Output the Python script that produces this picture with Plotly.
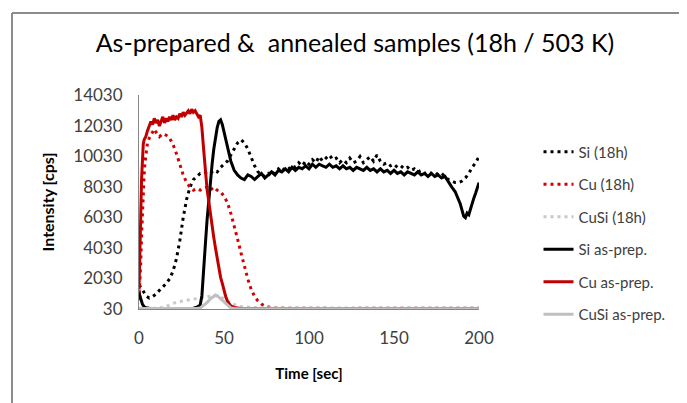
import plotly.graph_objects as go

# ---- data (time in sec, intensity in cps) ----
t_si_18h = [0, 2, 4, 6, 8, 10, 12, 14, 16, 18, 20, 22, 24, 26, 28, 30, 32, 34, 36, 38,
            40, 42, 44, 46, 48, 50, 52, 54, 56, 58, 60, 62, 64, 66, 68, 70, 72, 74, 76, 78,
            80, 82, 84, 86, 88, 90, 92, 94, 96, 98, 100, 102, 104, 106, 108, 110, 112, 114, 116, 118,
            120, 122, 124, 126, 128, 130, 132, 134, 136, 138, 140, 142, 144, 146, 148, 150, 152, 154, 156, 158,
            160, 162, 164, 166, 168, 170, 172, 174, 176, 178, 180, 182, 184, 186, 188, 190, 192, 194, 196, 198, 200]
si_18h = [1600, 1300, 900, 750, 850, 1000, 1250, 1450, 1700, 2000, 2500, 3300, 4500, 6000, 7200, 8000, 8500, 8700, 8900, 8900,
          9000, 8900, 9100, 9000, 9300, 9500, 9700, 10100, 10500, 10900, 11100, 10900, 10500, 9900, 9400, 9000, 8800, 8700, 8900, 8700,
          9000, 9200, 9000, 9300, 9200, 9400, 9300, 9600, 9400, 9700, 9500, 9800, 9600, 10000, 9700, 9900, 10100, 9800, 9900, 9600,
          9800, 9600, 9900, 9600, 9700, 10000, 9600, 9800, 10000, 9700, 10100, 9700, 9500, 9600, 9400, 9500, 9300, 9400, 9200, 9300,
          9100, 9200, 9000, 9100, 8900, 9000, 8900, 9000, 8800, 8900, 8700, 8500, 8400, 8300, 8300, 8400, 8600, 8900, 9300, 9600, 10000]

t_cu_18h = [0, 0.5, 1, 1.5, 2, 2.5, 3, 3.5, 4, 5, 6, 7, 8, 9, 10, 12, 14, 16, 18, 20,
            22, 24, 26, 28, 30, 32, 34, 36, 38, 40, 42, 44, 46, 48, 50, 52, 54, 56, 58, 60,
            62, 64, 66, 68, 70, 72, 74, 76, 78, 80, 90, 100, 110, 120, 130, 140, 150, 160, 170, 180, 190, 200]
cu_18h = [600, 1500, 3000, 4800, 6500, 7800, 8800, 9600, 10200, 10900, 11200, 11400, 11500, 11800, 11600, 11300, 11500, 11400, 11200, 10800,
          10200, 9500, 8800, 8300, 8000, 7800, 7900, 7800, 7900, 8000, 7800, 8000, 7800, 7700, 7400, 7000, 6300, 5500, 4600, 3700,
          2800, 2000, 1300, 850, 550, 350, 230, 150, 110, 90, 75, 70, 80, 65, 75, 70, 80, 70, 75, 70, 80, 75]

t_cusi_18h = [0, 5, 10, 15, 18, 20, 22, 24, 26, 28, 30, 32, 34, 36, 38, 40, 42, 44, 46, 48,
              50, 52, 54, 56, 58, 60, 62, 64, 66, 70, 80, 100, 120, 140, 160, 180, 200]
cusi_18h = [80, 60, 80, 150, 300, 400, 480, 520, 560, 600, 620, 650, 700, 760, 800, 830, 870, 900, 880, 820,
            700, 550, 420, 320, 250, 200, 170, 150, 130, 110, 100, 90, 95, 90, 90, 95, 90]

t_si_prep = [0, 1, 2, 3, 4, 6, 8, 12, 16, 20, 24, 28, 32, 34, 36, 37, 38, 39, 40, 41,
             42, 43, 44, 45, 46, 47, 48, 49, 50, 51, 52, 53, 54, 55, 56, 58, 60, 62, 64, 66,
             68, 70, 72, 74, 76, 78, 80, 82, 84, 86, 88, 90, 92, 94, 96, 98, 100, 102, 104, 106,
             108, 110, 112, 114, 116, 118, 120, 122, 124, 126, 128, 130, 132, 134, 136, 138, 140, 142, 144, 146,
             148, 150, 152, 154, 156, 158, 160, 162, 164, 166, 168, 170, 172, 174, 176, 178, 180, 182, 184, 186,
             188, 189, 190, 191, 192, 193, 194, 195, 196, 197, 198, 199, 200]
si_prep = [1100, 700, 350, 180, 120, 80, 60, 50, 45, 45, 45, 50, 80, 150, 300, 900, 2300, 4200, 5800, 7200,
           8400, 9500, 10500, 11300, 11900, 12300, 12400, 12100, 11600, 11000, 10500, 10000, 9700, 9400, 9100, 8800, 8600, 8500, 8800, 8700,
           8500, 8700, 8900, 8600, 8800, 9000, 8800, 9100, 9000, 9200, 9000, 9300, 9100, 9300, 9200, 9400, 9200, 9500, 9300, 9500,
           9400, 9300, 9500, 9300, 9400, 9200, 9400, 9200, 9300, 9100, 9300, 9200, 9100, 9300, 9100, 9200, 9000, 9200, 9000, 9100,
           8900, 9100, 8900, 9000, 8800, 9000, 8900, 8800, 9000, 8800, 8900, 8700, 8900, 8700, 8800, 8600, 8700, 8300, 8000, 7700,
           7200, 6900, 6500, 6100, 6000, 6300, 6200, 6600, 6900, 7300, 7600, 7900, 8300]

t_cu_prep = [0, 0.5, 1, 1.5, 2, 2.5, 3, 4, 5, 6, 7, 8, 9, 10, 11, 12, 13, 14, 15, 16,
             17, 18, 19, 20, 21, 22, 23, 24, 25, 26, 27, 28, 29, 30, 31, 32, 33, 34, 35, 36,
             37, 38, 39, 40, 41, 42, 43, 44, 45, 46, 47, 48, 49, 50, 51, 52, 53, 54, 56, 58,
             60, 80, 100, 120, 140, 160, 180, 200]
cu_prep = [1300, 3000, 6000, 8500, 10000, 10800, 11100, 11300, 11700, 12000, 12300, 12100, 12500, 12200, 12400, 12000, 12300, 12600, 12200, 12500,
           12300, 12600, 12400, 12700, 12400, 12600, 12500, 12800, 12600, 12900, 12700, 12900, 13000, 12800, 13100, 12900, 13000, 12800, 12600, 12700,
           11900, 10500, 9000, 7900, 7100, 6200, 5400, 4700, 4000, 3300, 2700, 2100, 1700, 1200, 850, 550, 350, 230, 130, 80,
           60, 50, 50, 50, 50, 50, 50, 50]

t_cusi_prep = [0, 10, 20, 30, 34, 36, 38, 40, 42, 44, 45, 46, 48, 50, 52, 54, 56, 60, 80, 100, 120, 140, 160, 180, 200]
cusi_prep = [60, 50, 50, 55, 60, 100, 250, 450, 700, 900, 950, 900, 700, 450, 250, 100, 60, 50, 45, 45, 45, 45, 45, 45, 45]

series = [
    ("Si (18h)", t_si_18h, si_18h, "#000000", "3px,4px"),
    ("Cu (18h)", t_cu_18h, cu_18h, "#D40000", "3px,4px"),
    ("CuSi (18h)", t_cusi_18h, cusi_18h, "#C8C8C8", "3px,4px"),
    ("Si as-prep.", t_si_prep, si_prep, "#000000", "solid"),
    ("Cu as-prep.", t_cu_prep, cu_prep, "#C00000", "solid"),
    ("CuSi as-prep.", t_cusi_prep, cusi_prep, "#BFBFBF", "solid"),
]

fig = go.Figure()
for name, xs, ys, color, dash in series:
    fig.add_trace(go.Scatter(
        x=xs, y=ys, name=name, mode="lines", legendgroup=name,
        line=dict(color=color, width=3, dash=dash),
    ))

FONT = "Lato"

# page body adds an 8px offset, margins account for it
fig.update_layout(
    width=687, height=403,
    margin=dict(l=131, r=216, t=87, b=102, autoexpand=False),
    paper_bgcolor="white", plot_bgcolor="white",
    font=dict(family=FONT, color="#404040", size=16),
    title=dict(text="As-prepared &\u00a0 annealed samples (18h / 503 K)",
               x=0.505, xanchor="center", y=0.913, yanchor="middle",
               font=dict(family=FONT, size=25, color="#000000")),
    xaxis=dict(range=[0, 200], tickvals=[0, 50, 100, 150, 200], automargin=False,
               showgrid=False, zeroline=False, showline=True, linecolor="#868686", linewidth=1,
               ticks="", ticklabelstandoff=14, tickfont=dict(size=17, color="#404040"),
               title=dict(text="<b>Time [sec]</b>", font=dict(size=15, color="#000000"), standoff=21)),
    yaxis=dict(range=[30, 14030], tick0=30, dtick=2000, tickformat="d", automargin=False,
               showgrid=False, zeroline=False, showline=True, linecolor="#868686", linewidth=1,
               ticks="", ticklabelstandoff=12, tickfont=dict(size=17, color="#404040"),
               title=dict(text="<b>Intensity [cps]</b>", font=dict(size=16, color="#000000"), standoff=14)),
    legend=dict(x=1.175, xanchor="left", y=0.811, yanchor="top",
                font=dict(family=FONT, size=15, color="#404040"),
                tracegroupgap=10, bgcolor="rgba(0,0,0,0)"),
    shapes=[
        dict(type="line", xref="paper", yref="paper", x0=-0.3735, x1=-0.3735, y0=-0.6, y1=1.383,
             line=dict(color="#8C8C8C", width=2)),
        dict(type="line", xref="paper", yref="paper", x0=-0.3735, x1=1.8, y0=1.383, y1=1.383,
             line=dict(color="#8C8C8C", width=2)),
    ],
)

fig.write_html("out.html")
